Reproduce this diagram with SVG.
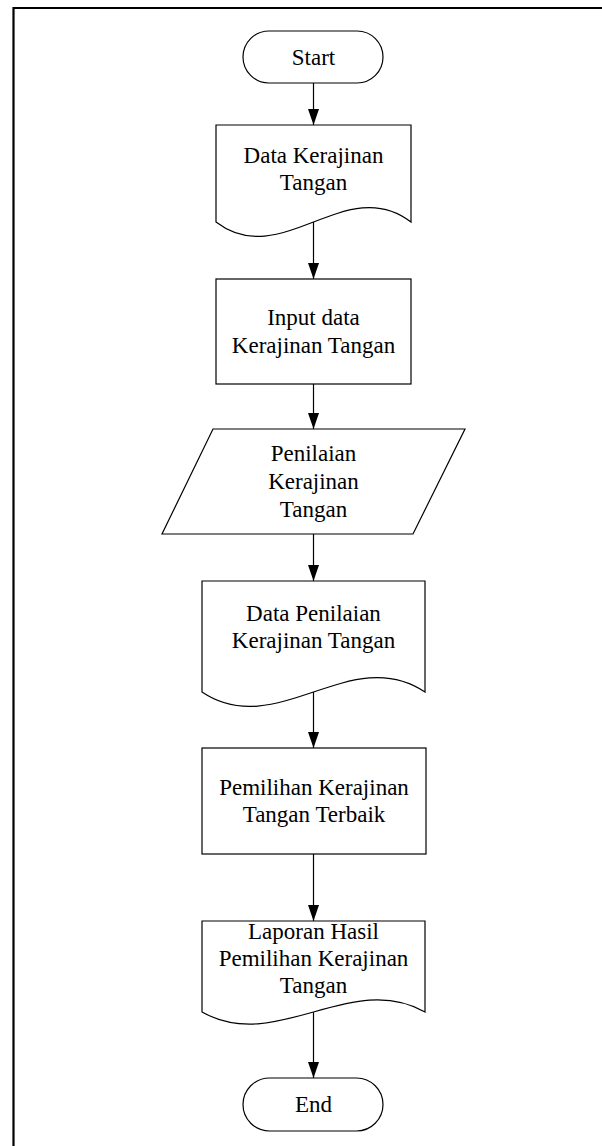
<svg xmlns="http://www.w3.org/2000/svg" width="602" height="1146" viewBox="0 0 602 1146">
<style>
.s{fill:#fff;stroke:#000;stroke-width:1.2}
.t{font-family:"Liberation Serif","Times New Roman",serif;font-size:23px;fill:#000;text-anchor:middle}
.c{stroke:#000;stroke-width:1.2;fill:none}
</style>
<defs>
<marker id="ah" markerUnits="userSpaceOnUse" markerWidth="16" markerHeight="11" refX="16" refY="5.5" orient="auto" viewBox="0 0 16 11">
<path d="M0,0 L16,5.5 L0,11 Z" fill="#000"/>
</marker>
</defs>
<rect width="602" height="1146" fill="#fff"/>
<path d="M13.5,1146 V8 H602" fill="none" stroke="#000" stroke-width="2.2"/>
<g id="connectors">
<line class="c" x1="313.5" y1="83" x2="313.5" y2="125" marker-end="url(#ah)"/>
<line class="c" x1="313.5" y1="222" x2="313.5" y2="279" marker-end="url(#ah)"/>
<line class="c" x1="313.5" y1="384" x2="313.5" y2="429" marker-end="url(#ah)"/>
<line class="c" x1="313.5" y1="534" x2="313.5" y2="581" marker-end="url(#ah)"/>
<line class="c" x1="313.5" y1="692" x2="313.5" y2="748" marker-end="url(#ah)"/>
<line class="c" x1="313.5" y1="854" x2="313.5" y2="921" marker-end="url(#ah)"/>
<line class="c" x1="313.5" y1="1012" x2="313.5" y2="1078" marker-end="url(#ah)"/>
</g>
<g id="start">
<rect class="s" x="243" y="31" width="140" height="52" rx="26"/>
<text class="t" x="313.5" y="64.5">Start</text>
</g>
<g id="data-kerajinan">
<path class="s" d="M216,125 H411 V222 C346,172 281,272 216,222 Z"/>
<text class="t" x="313.5" y="163">Data Kerajinan</text>
<text class="t" x="313.5" y="190">Tangan</text>
</g>
<g id="input-data">
<rect class="s" x="216" y="279" width="195" height="105"/>
<text class="t" x="313.5" y="325">Input data</text>
<text class="t" x="313.5" y="353">Kerajinan Tangan</text>
</g>
<g id="penilaian">
<path class="s" d="M213,429 H465 L413,534 H162 Z"/>
<text class="t" x="313.5" y="461">Penilaian</text>
<text class="t" x="313.5" y="489">Kerajinan</text>
<text class="t" x="313.5" y="517">Tangan</text>
</g>
<g id="data-penilaian">
<path class="s" d="M202,581 H425 V692 C350.7,642 276.3,742 202,692 Z"/>
<text class="t" x="313.5" y="621">Data Penilaian</text>
<text class="t" x="313.5" y="648">Kerajinan Tangan</text>
</g>
<g id="pemilihan">
<rect class="s" x="202" y="748" width="224" height="106"/>
<text class="t" x="314" y="795">Pemilihan Kerajinan</text>
<text class="t" x="314" y="822">Tangan Terbaik</text>
</g>
<g id="laporan">
<path class="s" d="M202,921 H425 V1012 C350.7,970 276.3,1054 202,1012 Z"/>
<text class="t" x="313.5" y="939">Laporan Hasil</text>
<text class="t" x="313.5" y="966">Pemilihan Kerajinan</text>
<text class="t" x="313.5" y="993">Tangan</text>
</g>
<g id="end">
<rect class="s" x="243" y="1078" width="140" height="53" rx="26.5"/>
<text class="t" x="313.5" y="1112">End</text>
</g>
</svg>
